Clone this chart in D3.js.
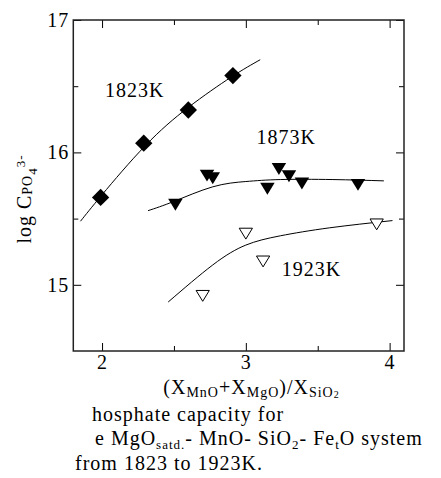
<!DOCTYPE html>
<html>
<head>
<meta charset="utf-8">
<script src="https://cdn.jsdelivr.net/npm/d3@7"></script>
<style>
  html, body { margin: 0; padding: 0; background: #fff; }
</style>
</head>
<body>
<svg id="chart" width="441" height="478"></svg>
<script>
// ---- data ----
const data1823 = [[1.99, 15.66], [2.29, 16.07], [2.60, 16.32], [2.91, 16.58]];
const fit1823 = [[1.85, 15.48], [2.00, 15.68], [2.30, 16.05], [2.60, 16.34], [2.90, 16.57], [3.10, 16.70]];

const data1873 = [[2.51, 15.62], [2.73, 15.84], [2.77, 15.82], [3.15, 15.74], [3.23, 15.89], [3.30, 15.835], [3.39, 15.78], [3.78, 15.77]];
const fit1873 = [[2.32, 15.56], [2.50, 15.63], [2.77, 15.74], [3.00, 15.78], [3.24, 15.795], [3.60, 15.795], [3.96, 15.785]];

const data1923 = [[2.70, 14.93], [3.00, 15.40], [3.12, 15.19], [3.91, 15.47]];
const fit1923 = [[2.46, 14.87], [2.77, 15.15], [3.00, 15.30], [3.24, 15.37], [3.58, 15.43], [4.02, 15.485]];

const xMajor = [2, 3, 4];
const xMinor = [2.5, 3.5];
const yMajor = [15, 16, 17];
const yMinor = [15.5, 16.5];

const tempLabels = [
  { text: "1823K", x: 2.02, y: 16.42 },
  { text: "1873K", x: 3.075, y: 16.063 },
  { text: "1923K", x: 3.249, y: 15.063 }
];

// ---- layout ----
const FONT = '"Liberation Serif", "Times New Roman", Times, "DejaVu Serif", serif';
const svg = d3.select("#chart").attr("font-family", FONT).style("font-family", FONT);
const L = 73.3, R = 404, T = 20, B = 351;
const x = d3.scaleLinear().domain([1.8, 4.1]).range([L, R]);
const y = d3.scaleLinear().domain([14.5, 17]).range([B, T]);
const FS = 20, LS = "1px";

// axes (inward ticks)
function addAxis(gen, tx, ty, vals, size, labels) {
  const g = svg.append("g").attr("transform", `translate(${tx},${ty})`)
    .call(gen.tickValues(vals).tickSizeInner(-size).tickSizeOuter(0).tickPadding(labels ? 4 : 0)
      .tickFormat(labels ? d3.format("d") : () => ""));
  g.attr("font-family", FONT).style("font-family", FONT);
  g.select(".domain").remove();
  g.selectAll(".tick line").attr("stroke", "#000").attr("stroke-width", 1);
  g.selectAll(".tick text").attr("font-size", FS).attr("letter-spacing", LS)
    .style("font-family", FONT).attr("fill", "#000");
  return g;
}
addAxis(d3.axisBottom(x), 0, B, xMajor, 8, true);
addAxis(d3.axisBottom(x), 0, B, xMinor, 5, false);
addAxis(d3.axisTop(x), 0, T, xMajor, 8, false);
addAxis(d3.axisTop(x), 0, T, xMinor, 5, false);
addAxis(d3.axisLeft(y), L, 0, yMajor, 8, true);
addAxis(d3.axisLeft(y), L, 0, yMinor, 5, false);
addAxis(d3.axisRight(y), R, 0, yMajor, 8, false);
addAxis(d3.axisRight(y), R, 0, yMinor, 5, false);

// frame
svg.append("rect").attr("x", L).attr("y", T).attr("width", R - L).attr("height", B - T)
  .attr("fill", "none").attr("stroke", "#222").attr("stroke-width", 1.5);

// fit curves
const line = d3.line().x(d => x(d[0])).y(d => y(d[1])).curve(d3.curveNatural);
[fit1823, fit1873, fit1923].forEach(f => {
  svg.append("path").attr("d", line(f)).attr("fill", "none").attr("stroke", "#000").attr("stroke-width", 1);
});

// custom downward triangle symbol (wider than tall)
const triDown = {
  draw(ctx, size) {
    const w = Math.sqrt(size * 2 / 0.82);
    const h = w * 0.82;
    ctx.moveTo(-w / 2, -h / 3);
    ctx.lineTo(w / 2, -h / 3);
    ctx.lineTo(0, 2 * h / 3);
    ctx.closePath();
  }
};

// 1823K diamonds
svg.append("g").selectAll("path").data(data1823).join("path")
  .attr("d", d3.symbol().type(d3.symbolSquare).size(150))
  .attr("transform", d => `translate(${x(d[0])},${y(d[1])}) rotate(45)`)
  .attr("fill", "#000");

// 1873K filled down triangles
svg.append("g").selectAll("path").data(data1873).join("path")
  .attr("d", d3.symbol().type(triDown).size(86))
  .attr("transform", d => `translate(${x(d[0])},${y(d[1])})`)
  .attr("fill", "#000");

// 1923K open down triangles
svg.append("g").selectAll("path").data(data1923).join("path")
  .attr("d", d3.symbol().type(triDown).size(72))
  .attr("transform", d => `translate(${x(d[0])},${y(d[1])})`)
  .attr("fill", "#fff").attr("stroke", "#000").attr("stroke-width", 1);

function txt(sel) {
  return sel.attr("font-family", FONT).style("font-family", FONT)
    .attr("font-size", FS).attr("letter-spacing", LS).attr("fill", "#000");
}

// temperature labels
txt(svg.append("g").selectAll("text").data(tempLabels).join("text"))
  .attr("x", d => x(d.x)).attr("y", d => y(d.y))
  .text(d => d.text);

// y axis title
const yt = txt(svg.append("text")).attr("transform", "translate(30.5,199) rotate(-90)")
  .attr("text-anchor", "middle");
yt.append("tspan").text("log C");
yt.append("tspan").attr("font-size", 14).attr("dy", 1).text("PO");
yt.append("tspan").attr("font-size", 13).attr("dy", 5).text("4");
yt.append("tspan").attr("font-size", 13).attr("dy", -11.5).text("3-");

// x axis title
const xt = txt(svg.append("text")).attr("x", 251.5).attr("y", 394)
  .attr("text-anchor", "middle");
xt.append("tspan").text("(X");
xt.append("tspan").attr("font-size", 14).attr("dy", 3).text("MnO");
xt.append("tspan").attr("dy", -3).text("+X");
xt.append("tspan").attr("font-size", 14).attr("dy", 3).text("MgO");
xt.append("tspan").attr("dy", -3).text(")/X");
xt.append("tspan").attr("font-size", 14).attr("dy", 3).text("SiO");
xt.append("tspan").attr("font-size", 10).attr("dy", 1).text("2");

// caption
txt(svg.append("text")).attr("x", 92).attr("y", 421).text("hosphate capacity for");
const c2 = txt(svg.append("text")).attr("x", 95).attr("y", 445);
c2.append("tspan").text("e MgO");
c2.append("tspan").attr("font-size", 13).attr("dy", 4).text("satd.");
c2.append("tspan").attr("dy", -4).text("- MnO- SiO");
c2.append("tspan").attr("font-size", 13).attr("dy", 4).text("2");
c2.append("tspan").attr("dy", -4).text("- Fe");
c2.append("tspan").attr("font-size", 13).attr("dy", 4).text("t");
c2.append("tspan").attr("dy", -4).text("O system");
txt(svg.append("text")).attr("x", 75).attr("y", 470).text("from 1823 to 1923K.");
</script>
</body>
</html>
